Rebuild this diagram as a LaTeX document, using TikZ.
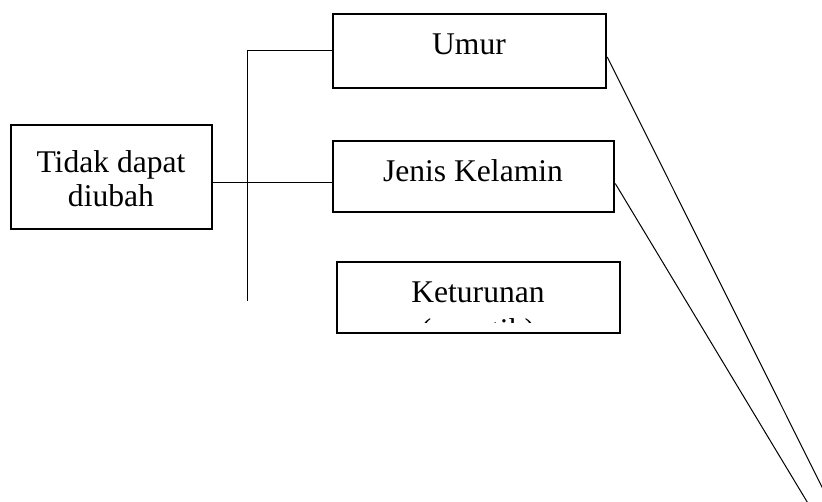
\documentclass[tikz,border=0pt]{standalone}
\usepackage{fontspec}
\setmainfont{Liberation Serif}
\begin{document}
\begin{tikzpicture}[x=1pt,y=-1pt,
  box/.style={draw=black,line width=2.5pt,rectangle,inner sep=0pt},
  lbl/.style={anchor=base,inner sep=0pt,font=\fontsize{31.6}{36}\selectfont},
  conn/.style={draw=black,line width=1pt}]
\useasboundingbox (0,0) rectangle (822,502);
% boxes
\node[box,minimum width=201pt,minimum height=104pt] (tidak) at (111.5,177) {};
\node[box,minimum width=273pt,minimum height=74pt] (umur) at (469.5,51) {};
\node[box,minimum width=281pt,minimum height=71pt] (jenis) at (473.5,176.5) {};
\node[box,minimum width=283pt,minimum height=71pt] (ketur) at (478.5,297.5) {};
% labels
\node[lbl] (tidakA) at (111,173) {Tidak dapat};
\node[lbl] (tidakB) at (111,207) {diubah};
\node[lbl] (umurT) at (469,55) {Umur};
\node[lbl] (jenisT) at (473,182) {Jenis Kelamin};
\begin{scope}
  \clip (338,263) rectangle (619,322.5);
  \node[lbl] (keturA) at (478,303) {Keturunan};
  \node[lbl] (keturB) at (478,341) {(genetik)};
\end{scope}
% connectors
\coordinate (vtop) at (247,51);
\coordinate (vbot) at (247,301);
\draw[conn] (vtop) -- (vbot);
\draw[conn] (vtop) -- (umur.west);
\draw[conn] ([yshift=-6pt]tidak.east) -- ([yshift=-6.5pt]jenis.west);
\coordinate (uend) at (831,505);
\coordinate (jend) at (809,505);
\begin{scope}
  \clip (0,0) rectangle (822,502);
  \draw[conn] ([yshift=-6pt]umur.east) -- (uend);
  \draw[conn] ([yshift=-7pt]jenis.east) -- (jend);
\end{scope}
\end{tikzpicture}
\end{document}
